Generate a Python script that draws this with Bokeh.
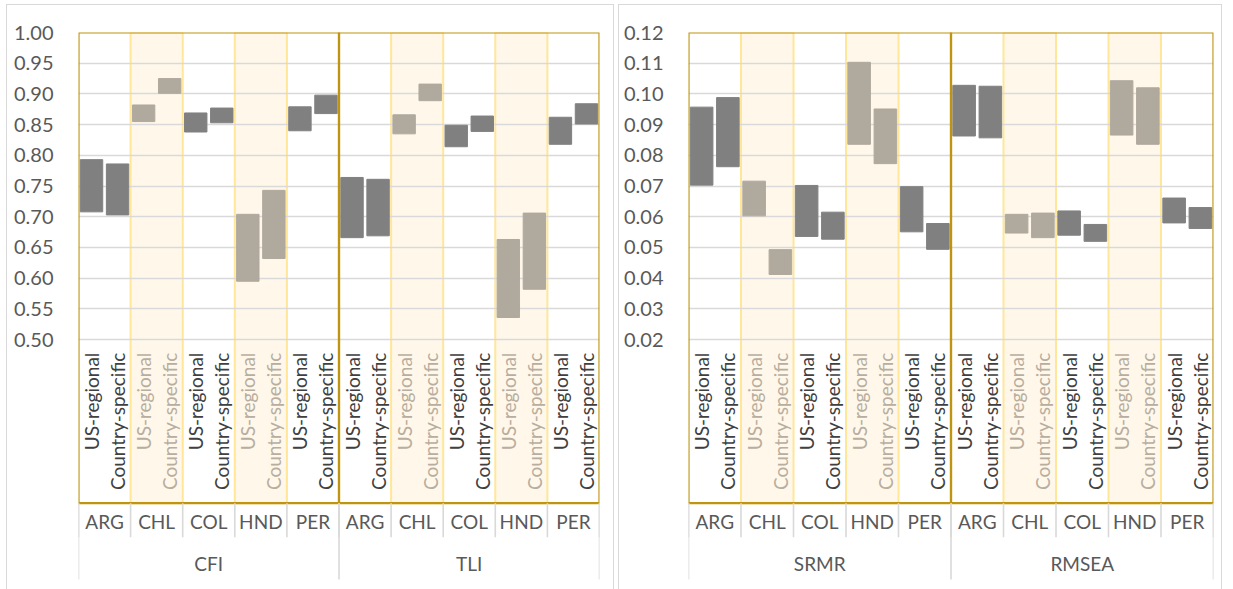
import numpy as np
from bokeh.plotting import figure
from bokeh.models import Range1d, FixedTicker, NumeralTickFormatter, ColumnDataSource
from bokeh.layouts import row
from bokeh.embed import file_html
from bokeh.resources import INLINE
from bokeh.core.properties import value

# ---------------- data ----------------
countries = ["ARG", "CHL", "COL", "HND", "PER"]
models = ["US-regional", "Country-specific"]
highlight = ["CHL", "HND"]

cfi_high = [0.793, 0.786, 0.882, 0.925, 0.869, 0.877, 0.704, 0.743, 0.879, 0.898]
cfi_low = [0.708, 0.703, 0.855, 0.901, 0.838, 0.853, 0.595, 0.632, 0.840, 0.868]
tli_high = [0.764, 0.761, 0.866, 0.916, 0.849, 0.864, 0.663, 0.706, 0.862, 0.884]
tli_low = [0.666, 0.669, 0.835, 0.889, 0.814, 0.839, 0.536, 0.582, 0.818, 0.851]
srmr_high = [0.0957, 0.0988, 0.0716, 0.0493, 0.0702, 0.0615, 0.1103, 0.0951, 0.0698, 0.0578]
srmr_low = [0.0703, 0.0763, 0.0603, 0.0412, 0.0536, 0.0527, 0.0836, 0.0773, 0.0551, 0.0494]
rmsea_high = [0.1028, 0.1025, 0.0608, 0.0612, 0.0619, 0.0575, 0.1043, 0.1020, 0.0661, 0.0630]
rmsea_low = [0.0863, 0.0857, 0.0547, 0.0532, 0.0540, 0.0520, 0.0866, 0.0836, 0.0580, 0.0562]

left_metrics = ["CFI", "TLI"]
right_metrics = ["SRMR", "RMSEA"]
left_ticks = [0.50, 0.55, 0.60, 0.65, 0.70, 0.75, 0.80, 0.85, 0.90, 0.95, 1.00]
right_ticks = [0.02, 0.03, 0.04, 0.05, 0.06, 0.07, 0.08, 0.09, 0.10, 0.11, 0.12]

# ---------------- style ----------------
FONT = "Lato"
DARK_BAR = "#808080"
LIGHT_BAR = "#B0A99D"
DARK_TXT = "#404040"
LIGHT_TXT = "#B8AE9F"
AXIS_TXT = "#595959"
GOLD = "#BF9410"
STRIPE_LINE = "#FFE699"
STRIPE_FILL = "#FFF8EA"
SEP = "#D9D9D9"

FH = 547          # frame height (px)
PLOT_H = 306      # px from top of frame to lowest tick
BOX_B = 469       # bottom of gold boxes (px)
LBL_TOP = 319     # top end of rotated labels (px)
CTRY_Y = 487
CTRY_SEP = 503
MET_Y = 529
MET_SEP = 545


def make_panel(metrics, highs, lows, ticks, fmt, width, bl, br):
    top, bot = ticks[-1], ticks[0]
    upp = (top - bot) / PLOT_H
    y_start = top - FH * upp
    n_per = len(countries) * len(models)
    n = n_per * len(metrics)
    p = figure(width=width, height=592, output_backend="svg", toolbar_location=None,
               x_range=Range1d(0, n), y_range=Range1d(y_start, top),
               x_axis_location=None, min_border_left=bl, min_border_right=br,
               min_border_top=27, min_border_bottom=16)
    p.extra_y_ranges = {"px": Range1d(start=FH, end=0)}
    p.outline_line_color = None
    p.background_fill_color = "white"
    p.xgrid.visible = False
    p.ygrid.ticker = FixedTicker(ticks=ticks)
    p.ygrid.grid_line_color = SEP
    p.ygrid.grid_line_width = 1.6
    ax = p.yaxis[0]
    ax.ticker = FixedTicker(ticks=ticks)
    ax.formatter = NumeralTickFormatter(format=fmt)
    ax.axis_line_color = None
    ax.major_tick_line_color = None
    ax.minor_tick_line_color = None
    ax.major_label_standoff = 19
    ax.major_label_text_font = FONT
    ax.major_label_text_font_size = "20px"
    ax.major_label_text_color = AXIS_TXT

    # stripes for highlighted countries
    sl, sr = [], []
    for m in range(len(metrics)):
        for ci, c in enumerate(countries):
            if c in highlight:
                x0 = m * n_per + ci * len(models)
                sl.append(x0)
                sr.append(x0 + len(models))
    p.quad(left=sl, right=sr, top=[0] * len(sl), bottom=[BOX_B] * len(sl),
           y_range_name="px", fill_color=STRIPE_FILL, line_color=STRIPE_LINE,
           line_width=2, level="image")

    # bars
    xs, hi, lo, col, lab, lcol = [], [], [], [], [], []
    for m in range(len(metrics)):
        k = 0
        for ci, c in enumerate(countries):
            for mi, md in enumerate(models):
                idx = m * n_per + ci * len(models) + mi
                xs.append(idx + 0.5)
                hi.append(highs[m][k])
                lo.append(lows[m][k])
                col.append(LIGHT_BAR if c in highlight else DARK_BAR)
                lab.append(md)
                lcol.append(LIGHT_TXT if c in highlight else DARK_TXT)
                k += 1
    src = ColumnDataSource(dict(x=xs, top=hi, bottom=lo, color=col, lab=lab, lcol=lcol,
                                ly=[LBL_TOP] * len(xs)))
    p.vbar(x="x", width=0.86, top="top", bottom="bottom", fill_color="color",
           line_color="color", source=src)
    p.text(x="x", y="ly", text="lab", source=src, y_range_name="px", angle=np.pi / 2,
           text_align="right", text_baseline="middle", text_font=value(FONT),
           text_font_size="19px", text_color="lcol")

    # gold boxes per metric
    p.quad(left=[m * n_per for m in range(len(metrics))],
           right=[(m + 1) * n_per for m in range(len(metrics))],
           top=[0] * len(metrics), bottom=[BOX_B] * len(metrics), y_range_name="px",
           fill_color=None, line_color=GOLD, line_width=2.2)

    # country labels & separators
    cx, cl = [], []
    for m in range(len(metrics)):
        for ci, c in enumerate(countries):
            cx.append(m * n_per + ci * len(models) + len(models) / 2)
            cl.append(c)
    p.text(x=cx, y=[CTRY_Y] * len(cx), text=cl, y_range_name="px", text_align="center",
           text_baseline="middle", text_font=value(FONT), text_font_size="19px",
           text_color=AXIS_TXT)
    sx = [i * len(models) for i in range(len(countries) * len(metrics) + 1)]
    p.segment(x0=sx, x1=sx, y0=[BOX_B] * len(sx), y1=[CTRY_SEP] * len(sx),
              y_range_name="px", line_color=SEP, line_width=1.6)
    mx = [m * n_per for m in range(len(metrics) + 1)]
    p.segment(x0=mx, x1=mx, y0=[BOX_B] * len(mx), y1=[MET_SEP] * len(mx),
              y_range_name="px", line_color=SEP, line_width=1.6)
    p.text(x=[m * n_per + n_per / 2 for m in range(len(metrics))], y=[MET_Y] * len(metrics),
           text=metrics, y_range_name="px", text_align="center", text_baseline="middle",
           text_font=value(FONT), text_font_size="19px", text_color=AXIS_TXT)
    p.styles = {"border": "1.5px solid #D9D9D9"}
    return p


p1 = make_panel(left_metrics, [cfi_high, tli_high], [cfi_low, tli_low], left_ticks,
                "0.00", 608, 71, 16)
p2 = make_panel(right_metrics, [srmr_high, rmsea_high], [srmr_low, rmsea_low], right_ticks,
                "0.00", 604, 69, 10)

layout = row(p1, p2, spacing=4)
layout.styles = {"margin": "4px 0 0 6px"}
open("out.html", "w").write(file_html(layout, INLINE))
